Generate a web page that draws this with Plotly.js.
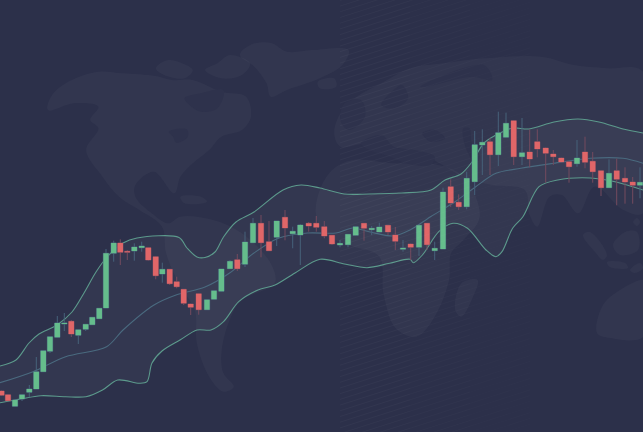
<!DOCTYPE html>
<html><head><meta charset="utf-8">
<script src="https://cdn.plot.ly/plotly-3.0.1.min.js"></script>
<style>html,body{margin:0;padding:0;background:#2c304a;overflow:hidden}#c{width:643px;height:432px}</style>
</head><body><div id="c"></div>
<script>
const position=[1.5,8,15,22,29.3,36.3,43.3,50,57.3,64.3,71.3,78.3,85.7,92.3,99.3,106,113.7,120.3,127.3,134.3,141.7,148.3,155.7,162.3,169.7,176.7,183.7,190.7,198.7,207,214,221.4,230,237.3,245,253,261,269,276.7,285,292.7,300.3,308.7,316.3,324.3,332,340,348,355.7,364,371.7,379.3,388,395.3,403,410.7,419,427,434.7,443,450.7,458.7,466.7,474.7,482.3,490,498.3,506,513.7,522,529.7,537.3,545.7,553.3,561.3,569,577,585,592.7,601,609,616.7,625,632.7,640];
const open=[41,37.3,25.7,33,39.7,43,60.3,80.7,94.7,108,110.7,96.7,102.7,107.3,113.3,124,178.7,189,180.7,181,184.3,184.3,175.3,158,162.7,150.3,142.7,128,138.3,122.3,132.7,140.7,163.3,172.3,167.7,189.3,208.7,190.3,194.7,214.7,198.3,197,208.7,208.7,205.3,196.7,187,187.3,196.7,208.7,202.3,200,206.7,197,182.7,188,184.7,208.7,181.3,183,245.3,229.7,225.3,250.3,287,290.3,277.3,294.7,311.3,275.3,280,290.3,284,278,274,270.3,268.3,280,270.7,261.3,244.3,261.3,253.7,250,246.7];
const high=[41.5,38,32,37.3,47,75,81.3,95.3,116,119,112,102.5,107.7,114.7,123.7,183,191.3,192.7,182,188.7,190.3,184.5,176,169.3,163,155.3,143,128.5,139,132.3,141.3,163,172,178,200.3,214,217,211,211,222,205.3,208,210,216,211,197,192,197.7,206,209,206,209.3,207,205,192,188.5,207,209,190.3,244.3,252.7,237.7,260.3,301,302.7,294,320.3,319.3,312,314,302.7,302.7,284.5,282,274.5,270.5,292,295.3,280,261.5,272.7,273.3,264.7,255,264.7];
const low=[36,31,25.5,31,35,43,60,79,94.5,101,95,88,101,107,113,124,170.3,167,172,171.3,180.3,171.3,152.7,149.3,147,143.7,127,117,117.3,122,132.5,140.5,163,161,165,189,174.7,181,186,191.7,183.7,167,200.3,200.3,193.7,187,184.7,184.7,196.5,191.3,197,199.8,197,182,180.3,172,176,182,172,183,225,222,222.7,237,257,257,266,294,267,267,264.7,274.7,249.3,267,269.5,249.3,265.3,263.7,249.3,236,244,226.7,228.3,228.3,233.7];
const close=[36.7,31.3,32,37.3,43,60.3,81.3,95.3,109,109,98,102.3,107.7,114.7,123.7,178.7,189,179.7,179.7,185,186,172,156.3,162.7,148.3,145.3,128.7,124.7,122.3,132.3,141.3,163,170.7,163.3,190,208.7,189.3,181.3,211,204,200.7,207,206,204.7,196,188,188.7,197.7,205.3,203.7,203.7,205,200,190.7,184,184.7,206.7,187.3,183.7,240,229,225.3,253.7,287.3,289.7,277.3,299.3,308.7,275.3,279.3,273,283,278.7,275.3,270,265.3,274,269.7,260.3,244.3,258.7,252.7,250,246.7,249.7];

const upperX=[0,16,29,39,57,72,84,96,107,123,137,179,187,197,205,215,223.5,236,254,283,301,320,344,369,402,431,445,461,472,484,500,513,529,554,578,599,623,643];
const upperY=[66,72,89,98,107,120,139,160,175,189,194,194.5,184,175,174.5,180,195,210,220,242,247,244,238,238,239,242,252,258,270,289,299,304,303,310,313,310,303,299];
const lowerX=[0,20.5,41,65.6,86,102.5,117.7,139.4,147,152,162,180,197,211,223.5,238.7,258,275,295,320,344.5,367,389.6,410,413.4,422.4,438.8,453,467.5,486,496,502,512.6,522.9,539,557.7,590.5,615,643];
const lowerY=[29.3,33,36.3,35.3,35.3,42,52,48.7,50.3,69,81,92,102,102,110.3,130.3,142,147,159,172.7,168,164.3,168.7,172.7,169.3,177,200.3,208.7,203.7,182,175.3,180.3,203.7,215.3,245.3,252,254,250.3,242];
const middleX=[0,33,65.6,106.6,123,154,176,205,229.6,254,279,307.6,336,352.7,369,393.7,410,430.6,455,475.7,496,520.8,553.6,590.5,623,643];
const middleY=[49.3,60.3,75.3,85.3,102,127,137,145,159,179,194,199,199,204,200.3,196,202,215.3,230.3,245.3,258.7,263.7,268.7,273.7,273.7,268.7];

const BG='#2c304a', LAND='rgba(255,255,255,0.033)', HOLE='#2e324c', GREEN='#65bd8c', RED='#e06668';
const WICK_UP='#46627a', WICK_DOWN='#744a5e', BAND='#5c9a8c', MID='#4a6a7f';

// Decorative world map, outlined in the picture's own coordinates.
const W=643/1568;
const z=pts=>pts.map(p=>[p[0]*W,432-p[1]/3]);
const pg=pts=>pts.map(p=>[p[0],432-p[1]]);
const blob=(pts,fill)=>({type:'scatter',mode:'lines',x:pts.map(p=>p[0]).concat(pts[0][0]),y:pts.map(p=>p[1]).concat(pts[0][1]),
  fill:'toself',fillcolor:fill,line:{width:0,shape:'spline',smoothing:1},hoverinfo:'skip',showlegend:false});
const landShapes=[
 z([[115,325],[130,280],[175,240],[240,215],[300,220],[380,228],[420,240],[470,240],[540,275],[600,290],[612,350],[590,390],[540,410],[510,450],[470,490],[440,530],[425,580],[375,515],[330,555],[330,590],[370,640],[410,670],[440,650],[520,660],[590,700],[660,790],[670,850],[590,900],[560,960],[540,1060],[545,1120],[570,1160],[545,1175],[510,1130],[480,1030],[475,930],[440,860],[405,760],[395,680],[340,630],[290,590],[250,530],[210,450],[240,385],[220,360],[240,320],[180,310],[120,332]]),
 z([[380,205],[410,180],[470,210],[450,235],[400,225]]),
 z([[500,210],[530,190],[560,165],[610,190],[590,225],[540,235]]),
 z([[585,165],[610,135],[660,128],[700,155],[760,150],[850,150],[835,195],[780,235],[700,270],[660,290],[650,250],[620,200]]),
 z([[775,245],[815,235],[820,260],[780,265]]),
 z([[440,590],[490,590],[505,605],[450,610]]),
 z([[770,640],[780,570],[810,510],[860,480],[960,490],[1050,490],[1130,530],[1170,650],[1130,720],[1100,760],[1095,840],[1060,950],[1015,1010],[965,985],[935,880],[925,770],[850,735],[790,700]]),
 z([[1110,930],[1125,850],[1165,840],[1150,900],[1125,950]]),
 z([[830,340],[870,290],[930,250],[1000,205],[1080,190],[1180,175],[1320,170],[1400,195],[1480,205],[1568,215],[1568,640],[1520,630],[1450,560],[1410,640],[1370,585],[1340,590],[1310,680],[1290,640],[1280,570],[1200,555],[1130,530],[1040,470],[900,430],[830,440],[815,400]]),
 pg([[597,333],[603,305],[620,290],[640,280],[643,280],[643,337],[610,338]]),
 pg([[583,235],[590,232],[607,255],[603,260],[595,252]]),
 pg([[607,262],[625,263],[628,268],[610,267]]),
 pg([[613,245],[625,232],[637,232],[638,250],[620,255]]),
 pg([[630,270],[640,263],[643,268],[635,273]]),
 pg([[633,222],[637,218],[640,222],[637,226]])
];
const holes=[
 z([[880,430],[930,405],[960,440],[1010,450],[1060,470],[1050,495],[990,490],[950,470],[900,450]]),
 z([[1030,400],[1060,390],[1085,415],[1050,425]]),
 z([[1130,385],[1145,385],[1150,430],[1170,470],[1160,490],[1135,440]]),
 z([[840,310],[880,300],[890,350],[850,390],[830,360]]),
 z([[930,315],[965,265],[980,255],[995,295],[960,325]]),
 z([[1025,260],[1180,195],[1200,240],[1150,230],[1040,260]]),
 z([[450,295],[490,280],[545,270],[530,325],[490,335],[462,315]]),
 z([[412,395],[455,388],[458,410],[430,428],[422,410]])
];

// Faint diagonal hatch that fades out to the right.
const hatchPath=(xa,xb)=>{let d='';for(let v=-70;v<440;v+=5.7){d+=`M${xa},${v+(xa-340)*0.32} L${xb},${v+(xb-340)*0.32} `;}return d;};
const hatch=[[340,410,0.03],[410,470,0.02],[470,530,0.012]].map(s=>({type:'path',xref:'x',yref:'y',layer:'above',path:hatchPath(s[0],s[1]),line:{color:`rgba(255,255,255,${s[2]})`,width:1}}));

const line=(x,y,color,extra)=>Object.assign({type:'scatter',mode:'lines',x,y,line:{color,width:1.1,shape:'spline',smoothing:0.9},hoverinfo:'skip',showlegend:false},extra||{});
const bodyHigh=open.map((v,i)=>Math.max(v,close[i]));
const bodyLow=open.map((v,i)=>Math.min(v,close[i]));

const data=[
 ...landShapes.map(p=>blob(p,LAND)),
 ...holes.map(p=>blob(p,HOLE)),
 line(lowerX,lowerY,BAND),
 line(upperX,upperY,BAND,{fill:'tonexty',fillcolor:'rgba(255,255,255,0.035)'}),
 line(middleX,middleY,MID),
 {type:'candlestick',x:position,open,high,low,close,xaxis:'x2',yaxis:'y2',showlegend:false,whiskerwidth:0,
  increasing:{line:{color:WICK_UP,width:1},fillcolor:WICK_UP},decreasing:{line:{color:WICK_DOWN,width:1},fillcolor:WICK_DOWN}},
 {type:'candlestick',x:position,open,high:bodyHigh,low:bodyLow,close,xaxis:'x2',yaxis:'y2',showlegend:false,whiskerwidth:0,
  increasing:{line:{color:GREEN,width:0},fillcolor:GREEN},decreasing:{line:{color:RED,width:0},fillcolor:RED}}
];
const ax={visible:false,fixedrange:true,showgrid:false,zeroline:false,rangeslider:{visible:false}};
const layout={width:643,height:432,margin:{l:0,r:0,t:0,b:0},paper_bgcolor:BG,plot_bgcolor:BG,showlegend:false,boxgap:0.18,boxgroupgap:0,
 xaxis:{...ax,range:[0,643]},yaxis:{...ax,range:[0,432]},
 xaxis2:{...ax,range:[0,643],overlaying:'x',anchor:'y2'},yaxis2:{...ax,range:[0,432],overlaying:'y',anchor:'x2'},
 shapes:hatch};
Plotly.newPlot('c',data,layout,{displayModeBar:false,staticPlot:true});
</script></body></html>
